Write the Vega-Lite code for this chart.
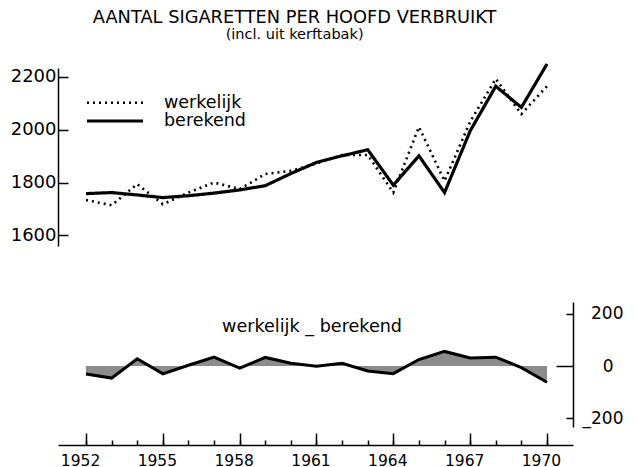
{
  "$schema": "https://vega.github.io/schema/vega-lite/v6.json",
  "autosize": {"type": "pad"},
  "padding": {"left": 10, "top": 9, "right": 0, "bottom": 0},
  "title": {
    "text": "AANTAL SIGARETTEN PER HOOFD VERBRUIKT",
    "subtitle": "(incl. uit kerftabak)",
    "font": "DejaVu Sans", "fontSize": 17.8, "fontWeight": "normal", "color": "black",
    "subtitleFont": "DejaVu Sans", "subtitleFontSize": 14.5, "subtitleColor": "black", "subtitlePadding": 1,
    "anchor": "middle", "dx": -22, "offset": 16
  },
  "data": {"values": [
    {"jaar": 1952, "werkelijk": 1734, "berekend": 1758, "verschil": -30},
    {"jaar": 1953, "werkelijk": 1714, "berekend": 1762, "verschil": -46},
    {"jaar": 1954, "werkelijk": 1794, "berekend": 1753, "verschil": 28},
    {"jaar": 1955, "werkelijk": 1718, "berekend": 1743, "verschil": -30},
    {"jaar": 1956, "werkelijk": 1762, "berekend": 1750, "verschil": 3},
    {"jaar": 1957, "werkelijk": 1800, "berekend": 1760, "verschil": 34},
    {"jaar": 1958, "werkelijk": 1775, "berekend": 1772, "verschil": -8},
    {"jaar": 1959, "werkelijk": 1832, "berekend": 1788, "verschil": 33},
    {"jaar": 1960, "werkelijk": 1844, "berekend": 1834, "verschil": 11},
    {"jaar": 1961, "werkelijk": 1872, "berekend": 1876, "verschil": -1},
    {"jaar": 1962, "werkelijk": 1904, "berekend": 1901, "verschil": 11},
    {"jaar": 1963, "werkelijk": 1904, "berekend": 1924, "verschil": -19},
    {"jaar": 1964, "werkelijk": 1762, "berekend": 1790, "verschil": -29},
    {"jaar": 1965, "werkelijk": 2010, "berekend": 1901, "verschil": 25},
    {"jaar": 1966, "werkelijk": 1806, "berekend": 1762, "verschil": 56},
    {"jaar": 1967, "werkelijk": 2030, "berekend": 1995, "verschil": 31},
    {"jaar": 1968, "werkelijk": 2192, "berekend": 2164, "verschil": 34},
    {"jaar": 1969, "werkelijk": 2059, "berekend": 2084, "verschil": -6},
    {"jaar": 1970, "werkelijk": 2164, "berekend": 2248, "verschil": -62}
  ]},
  "bounds": "flush",
  "spacing": 56,
  "vconcat": [
    {
      "width": 515,
      "height": 178,
      "transform": [{"fold": ["werkelijk", "berekend"], "as": ["reeks", "waarde"]}],
      "mark": {"type": "line", "color": "black"},
      "encoding": {
        "x": {"field": "jaar", "type": "quantitative", "scale": {"domain": [1950.906, 1971.016], "nice": false, "zero": false}, "axis": null},
        "y": {"field": "waarde", "type": "quantitative", "scale": {"domain": [1560, 2233], "nice": false, "zero": false},
          "axis": {"values": [1600, 1800, 2000, 2200], "format": "d", "tickSize": -10, "labelPadding": 12, "labelFontSize": 18, "title": null, "labelBaseline": "middle"}},
        "strokeDash": {"field": "reeks", "type": "nominal", "scale": {"domain": ["werkelijk", "berekend"], "range": [[2, 4], [1, 0]]},
          "legend": {"orient": "none", "legendX": 48, "legendY": 26, "title": null, "symbolType": "M-4,0H4", "symbolSize": 196, "symbolStrokeWidth": 2.8, "symbolStrokeColor": "black", "symbolFillColor": "transparent", "labelFontSize": 17.5, "labelFont": "DejaVu Sans", "labelColor": "black", "labelOffset": 40, "rowPadding": 0, "padding": 0}},
        "strokeWidth": {"field": "reeks", "type": "nominal", "scale": {"domain": ["werkelijk", "berekend"], "range": [2.6, 3.2]}, "legend": null}
      }
    },
    {
      "width": 515,
      "height": 125,
      "title": {"text": "werkelijk _ berekend", "frame": "group", "anchor": "start", "dx": 164, "dy": 48, "offset": 0, "baseline": "alphabetic", "font": "DejaVu Sans", "fontSize": 17.6, "fontWeight": "normal", "color": "black"},
      "encoding": {
        "y": {"field": "verschil", "type": "quantitative", "scale": {"domain": [-233, 245], "nice": false, "zero": false},
          "axis": {"orient": "right", "values": [-200, 0, 200], "tickSize": {"condition": {"test": "datum.value === 0", "value": -17}, "value": -7}, "labelPadding": 57, "labelAlign": "right", "labelBaseline": "middle", "labelExpr": "datum.value < 0 ? '_200' : datum.label", "labelFontSize": 17, "title": null}}
      },
      "layer": [
        {
          "mark": {"type": "area", "fill": "#8c8c8c"},
          "encoding": {
            "x": {"field": "jaar", "type": "quantitative", "scale": {"domain": [1950.906, 1971.016], "nice": false, "zero": false},
              "axis": {"orient": "bottom", "values": [1952, 1955, 1958, 1961, 1964, 1967, 1970], "format": "d", "tickSize": -12, "labelPadding": 20, "offset": 18, "labelFontSize": 15.5, "labelOffset": -6, "labelFlush": false, "title": null}},
            "y2": {"datum": 0}
          }
        },
        {
          "mark": {"type": "line", "color": "black", "strokeWidth": 3},
          "encoding": {
            "x": {"field": "jaar", "type": "quantitative", "scale": {"domain": [1950.906, 1971.016], "nice": false, "zero": false},
              "axis": {"orient": "bottom", "values": [1952, 1953, 1954, 1955, 1956, 1957, 1958, 1959, 1960, 1961, 1962, 1963, 1964, 1965, 1966, 1967, 1968, 1969, 1970], "tickSize": -5, "labels": false, "domain": false, "offset": 18, "title": null}}
          }
        }
      ],
      "resolve": {"axis": {"x": "independent"}}
    }
  ],
  "config": {
    "view": {"stroke": null},
    "axis": {"domainColor": "black", "tickColor": "black", "labelColor": "black", "domainWidth": 1.5, "tickWidth": 1.5, "labelFont": "DejaVu Sans", "grid": false}
  }
}
